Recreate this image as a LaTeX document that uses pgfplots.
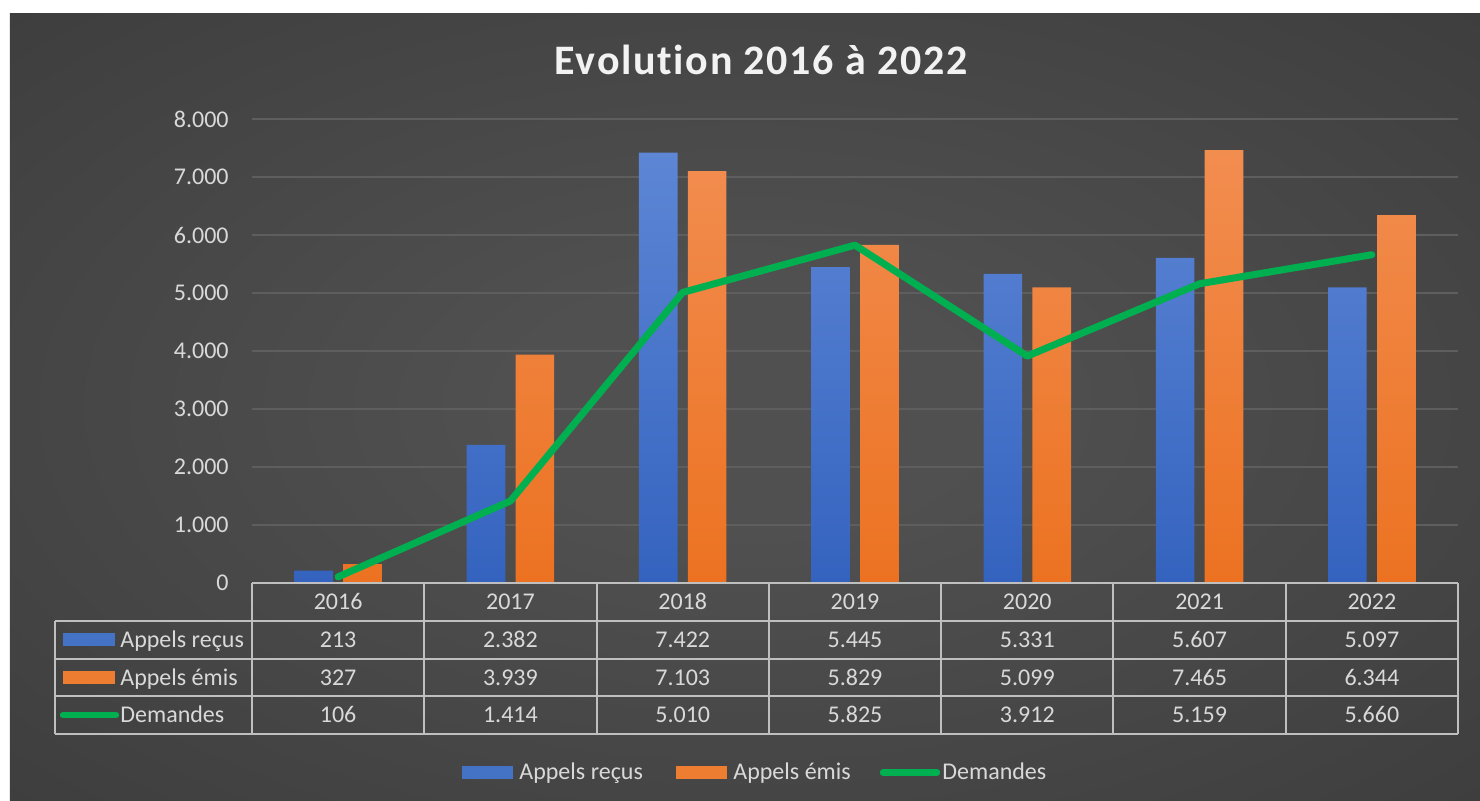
\documentclass[border=0pt]{standalone}
\usepackage{fontspec}
\setmainfont{Carlito}
\usepackage{pgfplots}
\pgfplotsset{compat=1.18}
\definecolor{bgin}{HTML}{505050}
\definecolor{bgout}{HTML}{262626}
\definecolor{txt}{HTML}{D9D9D9}
\definecolor{gridc}{HTML}{5E5E5E}
\definecolor{tline}{HTML}{BFBFBF}
\definecolor{blueT}{HTML}{5D86D5}
\definecolor{blueB}{HTML}{3463BF}
\definecolor{blueK}{HTML}{4472C4}
\definecolor{orT}{HTML}{F28D50}
\definecolor{orB}{HTML}{EC7221}
\definecolor{orK}{HTML}{ED7D31}
\definecolor{grn}{HTML}{00B050}
\pgfdeclareradialshading{bgshade}{\pgfpoint{0bp}{0bp}}{color(0bp)=(bgin); color(8bp)=(bgin); color(72bp)=(bgout)}
\newcommand{\tf}{\fontsize{12}{14}\selectfont}
\begin{document}
\begin{tikzpicture}
\begin{scope}[x=0.5pt,y=-0.5pt,shift={(-252,-583)}]
\fill[white] (0,0) rectangle (1480,800);
\shade[shading=bgshade] (10,13) rectangle (1480,800);
\end{scope}
\begin{axis}[at={(0,0)}, anchor=south west, scale only axis,
  width=603pt, height=232pt,
  xmin=-0.5, xmax=6.5, ymin=0, ymax=8000,
  xtick=\empty, ytick={0,1000,...,8000},
  ymajorgrids, grid style={gridc, line width=1pt},
  axis line style={draw=none}, major tick length=0pt,
  clip=false,
  yticklabel style={font=\tf, text=txt, anchor=east, inner sep=0pt, xshift=-11.5pt},
  /pgf/number format/1000 sep={.},
  /pgf/number format/assume math mode=true]
\addplot[ybar, bar width=0.224, bar shift=-0.142, draw=none, top color=blueT, bottom color=blueB]
  coordinates {(0,213) (1,2382) (2,7422) (3,5445) (4,5331) (5,5607) (6,5097)};
\addplot[ybar, bar width=0.224, bar shift=0.142, draw=none, top color=orT, bottom color=orB]
  coordinates {(0,327) (1,3939) (2,7103) (3,5829) (4,5099) (5,7465) (6,6344)};
\addplot[grn, line width=3.5pt, line join=round, line cap=round, mark=none]
  coordinates {(0,106) (1,1414) (2,5010) (3,5825) (4,3912) (5,5159) (6,5660)};
\end{axis}
\begin{scope}[x=0.5pt,y=-0.5pt,shift={(-252,-583)}]
% title
\node[anchor=base, text=white!95!black, inner sep=0pt] at (761,74)
  {\fontsize{21}{25}\selectfont\bfseries\addfontfeature{LetterSpace=4,Ligatures=NoCommon}Evolution 2016 à 2022};
% table lines
\begin{scope}[tline, line width=1pt]
\draw (252,583) -- (1458,583);
\draw (55,621) -- (1458,621);
\draw (55,659) -- (1458,659);
\draw (55,696) -- (1458,696);
\draw (55,734) -- (1458,734);
\draw (55,621) -- (55,734);
\foreach \k in {0,...,7}{\draw ({252+172.29*\k},583) -- ({252+172.29*\k},734);}
\end{scope}
% header and cells
\foreach \lab [count=\i from 0] in {2016,2017,2018,2019,2020,2021,2022}
  {\node[anchor=base, text=txt, inner sep=0pt, font=\tf] at ({252+172.29*(\i+0.5)},609.5) {\lab};}
\foreach \lab [count=\i from 0] in {213,2.382,7.422,5.445,5.331,5.607,5.097}
  {\node[anchor=base, text=txt, inner sep=0pt, font=\tf] at ({252+172.29*(\i+0.5)},647.5) {\lab};}
\foreach \lab [count=\i from 0] in {327,3.939,7.103,5.829,5.099,7.465,6.344}
  {\node[anchor=base, text=txt, inner sep=0pt, font=\tf] at ({252+172.29*(\i+0.5)},685) {\lab};}
\foreach \lab [count=\i from 0] in {106,1.414,5.010,5.825,3.912,5.159,5.660}
  {\node[anchor=base, text=txt, inner sep=0pt, font=\tf] at ({252+172.29*(\i+0.5)},722.5) {\lab};}
% row labels
\fill[blueK] (63,633) rectangle (115,646);
\node[anchor=base west, text=txt, inner sep=0pt, font=\tf] at (120,647.5) {Appels reçus};
\fill[orK] (63,671) rectangle (115,684);
\node[anchor=base west, text=txt, inner sep=0pt, font=\tf] at (120,685) {Appels émis};
\draw[grn, line width=3.2pt, line cap=round] (63,715) -- (116,715);
\node[anchor=base west, text=txt, inner sep=0pt, font=\tf] at (120,722.5) {Demandes};
% legend
\fill[blueK] (462,766) rectangle (513,779);
\node[anchor=base west, text=txt, inner sep=0pt, font=\tf] at (519,779.5) {Appels reçus};
\fill[orK] (676,766) rectangle (727,779);
\node[anchor=base west, text=txt, inner sep=0pt, font=\tf] at (733,779.5) {Appels émis};
\draw[grn, line width=3.2pt, line cap=round] (883,772.5) -- (937,772.5);
\node[anchor=base west, text=txt, inner sep=0pt, font=\tf] at (942,779.5) {Demandes};
\end{scope}
\end{tikzpicture}
\end{document}
